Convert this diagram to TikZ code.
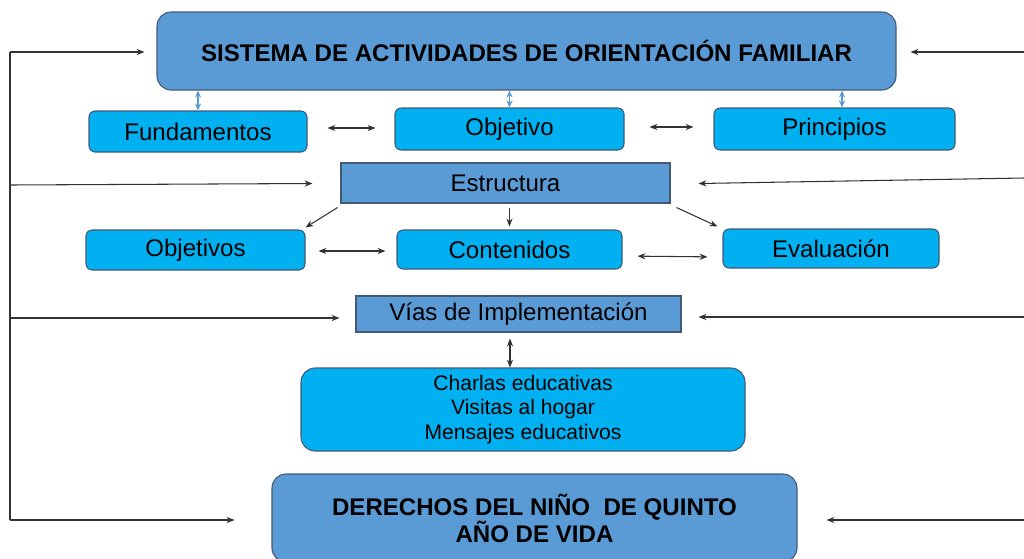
\documentclass[tikz,border=0pt]{standalone}
\usepackage{fontspec}
\setmainfont{Liberation Sans}
\usepackage{tikz}
\usetikzlibrary{arrows.meta}

\definecolor{midblue}{RGB}{91,155,213}
\definecolor{skyblue}{RGB}{0,176,240}
\definecolor{edgeblue}{RGB}{65,90,120}
\definecolor{lineg}{RGB}{50,50,50}

\tikzset{
  bigbox/.style={draw=edgeblue, fill=midblue, rounded corners=8pt,
    line width=0.6pt, align=center, text=black,
    font=\fontsize{13.7}{15.4}\selectfont\bfseries},
  cyanbox/.style={draw=edgeblue, fill=skyblue, rounded corners=3.5pt,
    line width=0.6pt, align=center, text=black,
    font=\fontsize{13.7}{16}\selectfont},
  flatbox/.style={draw=edgeblue, fill=midblue, line width=0.6pt,
    text=black, font=\fontsize{13.7}{16}\selectfont},
  arr/.style={-{Stealth[length=4.5pt,width=3.5pt]}, draw=lineg, line width=0.6pt},
  dbl/.style={{Stealth[length=4.5pt,width=3.5pt]}-{Stealth[length=4.5pt,width=3.5pt]},
    draw=lineg, line width=0.6pt},
  lbdbl/.style={{Stealth[length=4pt,width=3.5pt]}-{Stealth[length=4pt,width=3.5pt]},
    draw=midblue, line width=0.8pt}
}

\begin{document}
\begin{tikzpicture}[inner sep=0pt]
\useasboundingbox (0,0) rectangle (20.48,-11.16);

% main boxes
\path (10.53,-1.02) node (sistema) [bigbox, minimum width=14.78cm,
    minimum height=1.56cm]
    {SISTEMA DE ACTIVIDADES DE ORIENTACIÓN FAMILIAR};
\path (3.96,-2.63) node (fundamentos) [cyanbox, minimum width=4.36cm,
    minimum height=0.82cm] {Fundamentos};
\path (10.19,-2.58) node (objetivo) [cyanbox, minimum width=4.58cm,
    minimum height=0.84cm] {Objetivo};
\path (16.69,-2.58) node (principios) [cyanbox, minimum width=4.82cm,
    minimum height=0.84cm] {Principios};

\path (10.11,-3.66) node (estructura) [flatbox, minimum width=6.58cm,
    minimum height=0.8cm] {Estructura};
\path (3.91,-5.0) node (objetivos) [cyanbox, minimum width=4.38cm,
    minimum height=0.8cm] {Objetivos};
\path (10.19,-4.99) node (contenidos) [cyanbox, minimum width=4.5cm,
    minimum height=0.78cm] {Contenidos};
\path (16.62,-4.97) node (evaluacion) [cyanbox, minimum width=4.32cm,
    minimum height=0.78cm] {Evaluación};

\path (10.37,-6.28) node (vias) [flatbox, minimum width=6.5cm,
    minimum height=0.72cm] {Vías de Implementación};
\path (10.46,-8.19) node (charlas) [cyanbox, rounded corners=8pt,
    minimum width=8.88cm, minimum height=1.66cm,
    font=\fontsize{12}{13.7}\selectfont]
  {Charlas educativas\\Visitas al hogar\\Mensajes educativos};
\path (10.69,-10.36) node (derechos) [bigbox, minimum width=10.5cm,
    minimum height=1.76cm] {DERECHOS DEL NIÑO\ \ DE QUINTO\\AÑO DE VIDA};

% side line ends
\coordinate (ltop) at (0.2,-1.04);
\coordinate (lest) at (0.2,-3.70);
\coordinate (lvia) at (0.2,-6.36);
\coordinate (lder) at (0.2,-10.40);
\coordinate (rtop) at (20.48,-1.04);
\coordinate (rest) at (20.48,-3.56);
\coordinate (rvia) at (20.48,-6.34);
\coordinate (rder) at (20.48,-10.40);

\draw [draw=lineg, line width=0.6pt] (ltop) -- (lder);
\draw [arr, shorten >=0.24cm] (ltop) -- (sistema.west |- ltop);
\draw [arr] (lest) -- ([xshift=-0.56cm,yshift=-0.01cm]estructura.west);
\draw [arr, shorten >=0.32cm] (lvia) -- (vias.west |- lvia);
\draw [arr, shorten >=0.74cm] (lder) -- (derechos.west |- lder);

\draw [arr, shorten >=0.28cm] (rtop) -- (sistema.east |- rtop);
\draw [arr] (rest) -- ([xshift=0.56cm,yshift=-0.01cm]estructura.east);
\draw [arr, shorten >=0.34cm] (rvia) -- (vias.east |- rvia);
\draw [arr, shorten >=0.58cm] (rder) -- (derechos.east |- rder);

% sistema to its parts
\draw [lbdbl] (fundamentos.north |- sistema.south) -- (fundamentos.north);
\draw [lbdbl] (objetivo.north |- sistema.south) -- (objetivo.north);
\draw [lbdbl] ([xshift=0.15cm]principios.north |- sistema.south)
  -- ([xshift=0.15cm]principios.north);

\draw [dbl, shorten <=0.4cm, shorten >=0.38cm]
  (fundamentos.east |- 0,-2.56) -- (objetivo.west |- 0,-2.56);
\draw [dbl, shorten <=0.5cm, shorten >=0.4cm]
  (objetivo.east |- 0,-2.54) -- (principios.west |- 0,-2.54);

% estructura to its parts
\draw [arr] ([shift={(-0.06,-0.08)}]estructura.south west)
  -- ([shift={(0,0.04)}]objetivos.north east);
\draw [arr, shorten <=0.08cm, shorten >=0.06cm]
  (estructura.south -| contenidos.north) -- (contenidos.north);
\draw [arr] ([shift={(0.12,-0.08)}]estructura.south east)
  -- ([shift={(-0.1,0.04)}]evaluacion.north west);

\draw [dbl, shorten <=0.26cm, shorten >=0.22cm]
  (objetivos.east |- 0,-5.02) -- (contenidos.west |- 0,-5.02);
\draw [dbl, shorten <=0.3cm, shorten >=0.3cm]
  (contenidos.east |- 0,-5.12) -- (evaluacion.west |- 0,-5.14);

% vias to charlas
\draw [dbl, shorten <=0.12cm]
  ([xshift=-0.17cm]vias.south) -- ([xshift=-0.17cm]vias.south |- charlas.north);

\end{tikzpicture}
\end{document}
